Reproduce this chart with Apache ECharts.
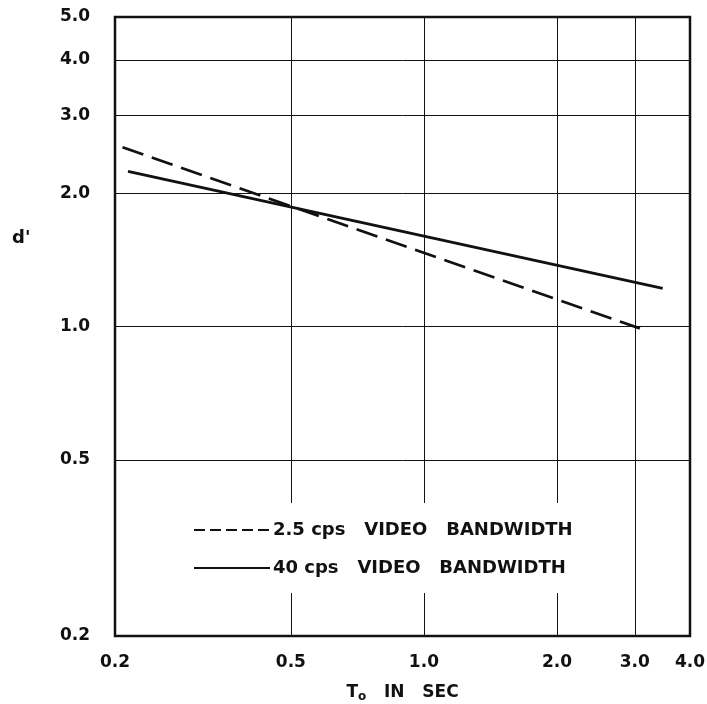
<!DOCTYPE html>
<html>
<head>
<meta charset="utf-8">
<script src="https://cdn.jsdelivr.net/npm/echarts@6/dist/echarts.min.js"></script>
<style>
html, body { margin: 0; background: #fff; }
#main { width: 707px; height: 704px; }
</style>
</head>
<body>
<div id="main"></div>
<script>
// tick values on both log axes
const xTicks = [0.2, 0.5, 1.0, 2.0, 3.0, 4.0];
const yTicks = [0.2, 0.5, 1.0, 2.0, 3.0, 4.0, 5.0];

// 2.5 cps video bandwidth (dashed)
const tNarrow = [0.208, 3.08];
const dNarrow = [2.54, 0.99];
// 40 cps video bandwidth (solid)
const tWide = [0.214, 3.47];
const dWide = [2.24, 1.22];

const names = ['2.5 cps   VIDEO   BANDWIDTH', '40 cps   VIDEO   BANDWIDTH'];

const font = 'DejaVu Sans';
const ink = '#111';

function pairs(xs, ys) {
  return xs.map((x, i) => [x, ys[i]]);
}

const chart = echarts.init(document.getElementById('main'));
chart.setOption({
  backgroundColor: '#fff',
  animation: false,
  textStyle: { fontFamily: font, color: ink, fontWeight: 'bold' },
  grid: {
    left: 115, top: 17, right: 17, bottom: 68,
    outerBoundsMode: 'none',
    show: true, borderColor: ink, borderWidth: 2.5
  },
  // white box over the grid lines, as in the original
  legend: {
    orient: 'vertical',
    left: 183, top: 503,
    padding: [18, 14, 16, 10],
    backgroundColor: '#fff',
    itemWidth: 76, itemHeight: 14, itemGap: 20,
    itemStyle: { opacity: 0, borderWidth: 0 },
    textStyle: { fontSize: 18, color: ink, fontFamily: font, fontWeight: 'bold', padding: [0, 0, 0, -2] },
    data: [
      { name: names[0], lineStyle: { type: [11, 5], width: 2 } },
      { name: names[1], lineStyle: { width: 2 } }
    ]
  },
  graphic: [{
    type: 'text', left: 12, top: 229,
    style: { text: "d'", fontSize: 18, fontWeight: 'bold', fontFamily: font, fill: ink }
  }],
  xAxis: {
    type: 'log', logBase: 10, min: 0.2, max: 4.0,
    name: 'T{s|o}   IN   SEC',
    nameLocation: 'middle', nameGap: 46,
    nameTextStyle: {
      fontSize: 17, color: ink, fontWeight: 'bold',
      rich: { s: { fontSize: 12, fontWeight: 'bold', verticalAlign: 'bottom', padding: [9, 0, 0, 0] } }
    },
    axisLine: { show: false },
    axisTick: { show: false, customValues: xTicks },
    axisLabel: {
      customValues: xTicks, margin: 18, fontSize: 17, color: ink, fontWeight: 'bold',
      formatter: v => v.toFixed(1)
    },
    splitLine: { show: true, lineStyle: { color: ink, width: 1 } }
  },
  yAxis: {
    type: 'log', logBase: 10, min: 0.2, max: 5.0,
    axisLine: { show: false },
    axisTick: { show: false, customValues: yTicks },
    axisLabel: {
      customValues: yTicks, margin: 25, fontSize: 17, color: ink, fontWeight: 'bold',
      formatter: v => v.toFixed(1)
    },
    splitLine: { show: true, lineStyle: { color: ink, width: 1 } }
  },
  series: [
    {
      name: names[0], type: 'line', symbol: 'none',
      data: pairs(tNarrow, dNarrow),
      lineStyle: { color: ink, width: 2.8, type: [22, 9] },
      itemStyle: { color: ink }
    },
    {
      name: names[1], type: 'line', symbol: 'none',
      data: pairs(tWide, dWide),
      lineStyle: { color: ink, width: 2.8 },
      itemStyle: { color: ink }
    }
  ]
});
</script>
</body>
</html>
